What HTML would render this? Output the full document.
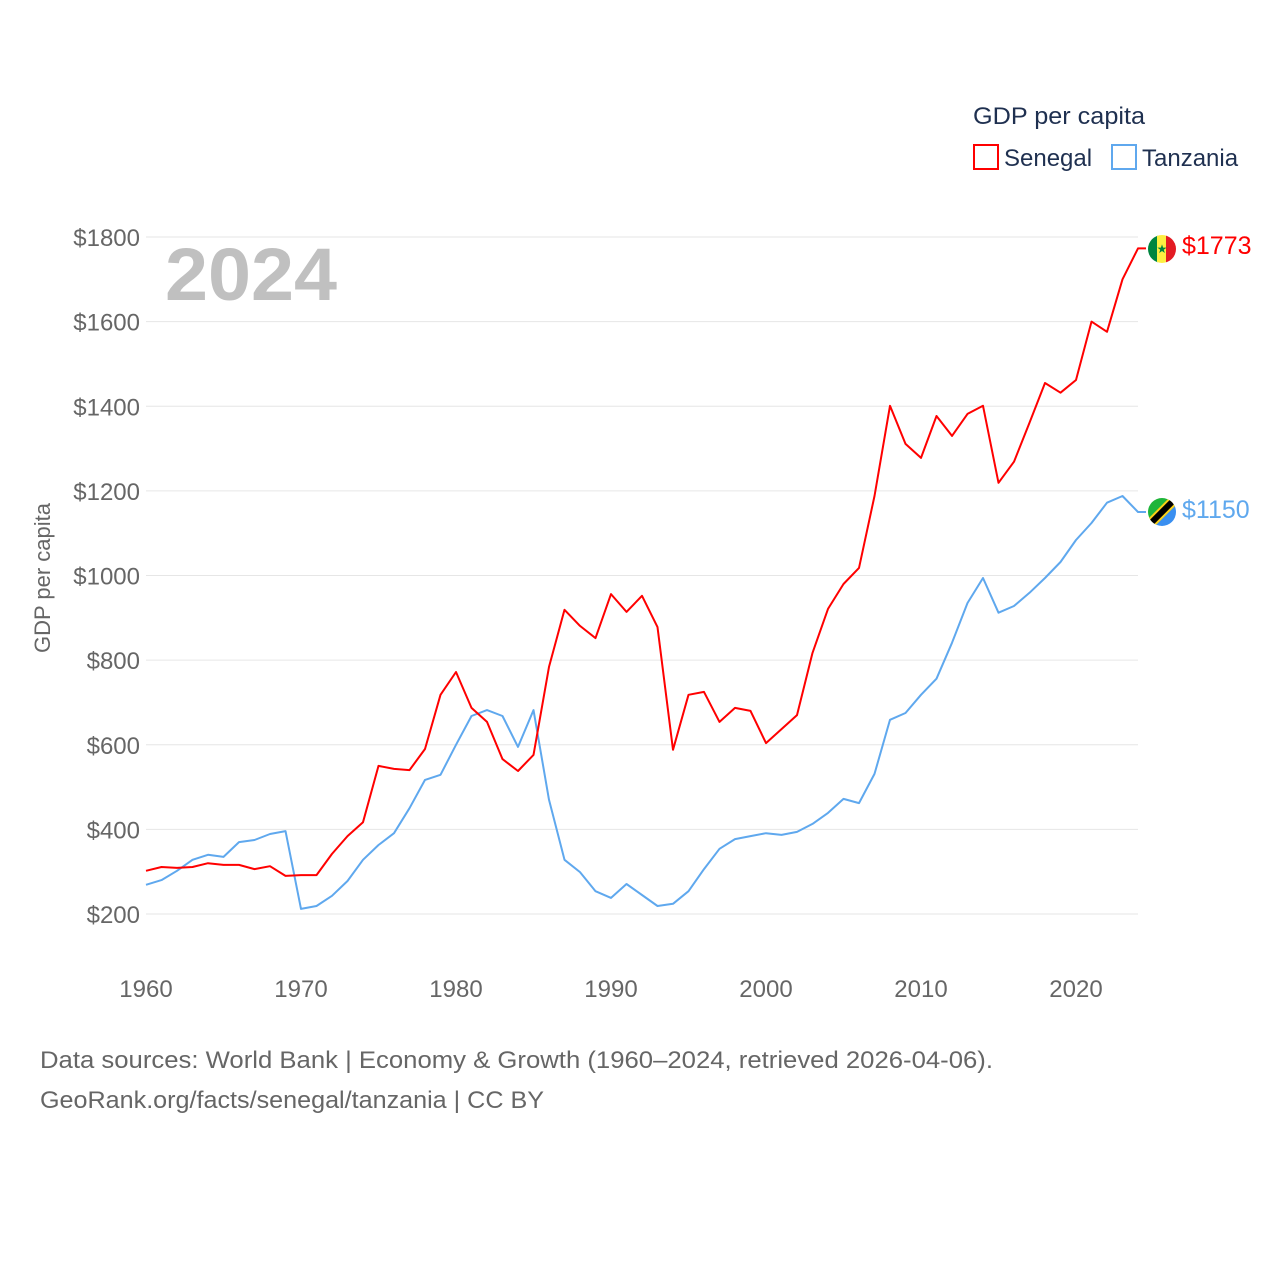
<!DOCTYPE html>
<html><head><meta charset="utf-8">
<style>
body{margin:0;background:#fff;font-family:"Liberation Sans",sans-serif;}
svg text{font-family:"Liberation Sans",sans-serif;}
</style></head>
<body>
<svg id="chart" width="1280" height="1280" viewBox="0 0 1280 1280" xmlns="http://www.w3.org/2000/svg">
  <rect width="1280" height="1280" fill="#fff"/>
  <g id="grid"></g>
  <g id="yticks"></g>
  <g id="xticks"></g>
  <text x="165" y="300" font-size="74" font-weight="bold" fill="#c0c0c0" textLength="172" lengthAdjust="spacingAndGlyphs">2024</text>
  <text transform="translate(50,578) rotate(-90)" text-anchor="middle" font-size="22" fill="#666">GDP per capita</text>
  <g id="series"></g>
  <g>
    <text x="973" y="124" font-size="24" fill="#1f3050" textLength="172" lengthAdjust="spacingAndGlyphs">GDP per capita</text>
    <g>
      <rect x="974" y="145" width="24" height="24" fill="none" stroke="#ff0000" stroke-width="2"/>
      <text x="1004" y="166" font-size="24" fill="#1f3050">Senegal</text>
    </g>
    <g>
      <rect x="1112" y="145" width="24" height="24" fill="none" stroke="#5fa8ee" stroke-width="2"/>
      <text x="1142" y="166" font-size="24" fill="#1f3050">Tanzania</text>
    </g>
  </g>
  <g>
    <clipPath id="c1"><circle cx="1162" cy="249" r="14"/></clipPath>
    <g clip-path="url(#c1)">
      <rect x="1148" y="235" width="10" height="28" fill="#00853f"/>
      <rect x="1157" y="235" width="10" height="28" fill="#fdef42"/>
      <rect x="1166" y="235" width="10" height="28" fill="#e31b23"/>
    </g>
    <text x="1162" y="253" font-size="12" text-anchor="middle" fill="#00853f">★</text>
    <text x="1182" y="254" font-size="25" fill="#ff0000">$1773</text>
  </g>
  <g>
    <clipPath id="c2"><circle cx="1162" cy="512" r="14"/></clipPath>
    <g clip-path="url(#c2)">
      <polygon points="1148,498 1176,498 1148,526" fill="#1eb53a"/>
      <polygon points="1176,498 1176,526 1148,526" fill="#3a8ff0"/>
      <line x1="1146" y1="528" x2="1178" y2="496" stroke="#fcd116" stroke-width="10"/>
      <line x1="1146" y1="528" x2="1178" y2="496" stroke="#000" stroke-width="6"/>
    </g>
    <text x="1182" y="518" font-size="25" fill="#5fa8ee">$1150</text>
  </g>
  <text x="40" y="1068" font-size="24" fill="#666" textLength="953" lengthAdjust="spacingAndGlyphs">Data sources: World Bank | Economy &amp; Growth (1960–2024, retrieved 2026-04-06).</text>
  <text x="40" y="1108" font-size="24" fill="#666" textLength="504" lengthAdjust="spacingAndGlyphs">GeoRank.org/facts/senegal/tanzania | CC BY</text>
</svg>
<script>
const years = [];
for (let y = 1960; y <= 2024; y++) years.push(y);
const senegal = [302,311,309,311,320,316,316,306,313,290,292,292,342,384,417,550,543,540,590,718,772,687,654,566,538,576,784,919,881,852,956,914,952,878,588,718,725,654,687,680,604,637,670,817,921,980,1018,1188,1401,1311,1278,1377,1330,1382,1401,1219,1269,1361,1455,1432,1462,1600,1576,1700,1773];
const tanzania = [269,280,302,328,340,335,370,375,389,396,212,219,243,278,328,363,391,450,517,529,600,668,682,668,595,682,470,328,299,254,238,271,245,219,224,254,306,354,377,384,391,387,394,413,439,472,462,531,659,675,718,756,841,935,994,912,928,959,994,1032,1084,1124,1172,1188,1150];
const yTicks = [200,400,600,800,1000,1200,1400,1600,1800];
const xTicks = [1960,1970,1980,1990,2000,2010,2020];

const NS = "http://www.w3.org/2000/svg";
const xS = y => 146 + (y - 1960) * 15.5;
const yS = v => 914 - (v - 200) * (677 / 1600);

const grid = document.getElementById('grid');
const yt = document.getElementById('yticks');
yTicks.forEach(v => {
  const l = document.createElementNS(NS, 'line');
  
  
  l.setAttribute('x1', 146); l.setAttribute('x2', 1138);
  l.setAttribute('y1', yS(v)); l.setAttribute('y2', yS(v));
  l.setAttribute('stroke', '#e6e6e6'); l.setAttribute('stroke-width', 1);
  grid.appendChild(l);
  const t = document.createElementNS(NS, 'text');
  
  
  t.setAttribute('x', 140); t.setAttribute('y', yS(v) + 9);
  t.setAttribute('text-anchor', 'end'); t.setAttribute('font-size', 24); t.setAttribute('fill', '#666');
  t.textContent = '$' + v;
  yt.appendChild(t);
});
const xt = document.getElementById('xticks');
xTicks.forEach(y => {
  const t = document.createElementNS(NS, 'text');
  
  
  t.setAttribute('x', xS(y)); t.setAttribute('y', 997);
  t.setAttribute('text-anchor', 'middle'); t.setAttribute('font-size', 24); t.setAttribute('fill', '#666');
  t.textContent = y;
  xt.appendChild(t);
});
const ser = document.getElementById('series');
function addLine(vals, color, name) {
  const p = document.createElementNS(NS, 'path');
  
  
  let d = vals.map((v, i) => (i ? 'L' : 'M') + xS(years[i]).toFixed(1) + ',' + yS(v).toFixed(1)).join('');
  d += 'L' + (xS(2024) + 8) + ',' + yS(vals[vals.length - 1]).toFixed(1);
  p.setAttribute('d', d);
  p.setAttribute('fill', 'none'); p.setAttribute('stroke', color); p.setAttribute('stroke-width', 2);
  p.setAttribute('stroke-linejoin', 'round');
  ser.appendChild(p);
}
addLine(tanzania, '#5fa8ee', 'tanzania-line');
addLine(senegal, '#ff0000', 'senegal-line');
</script>
</body></html>
